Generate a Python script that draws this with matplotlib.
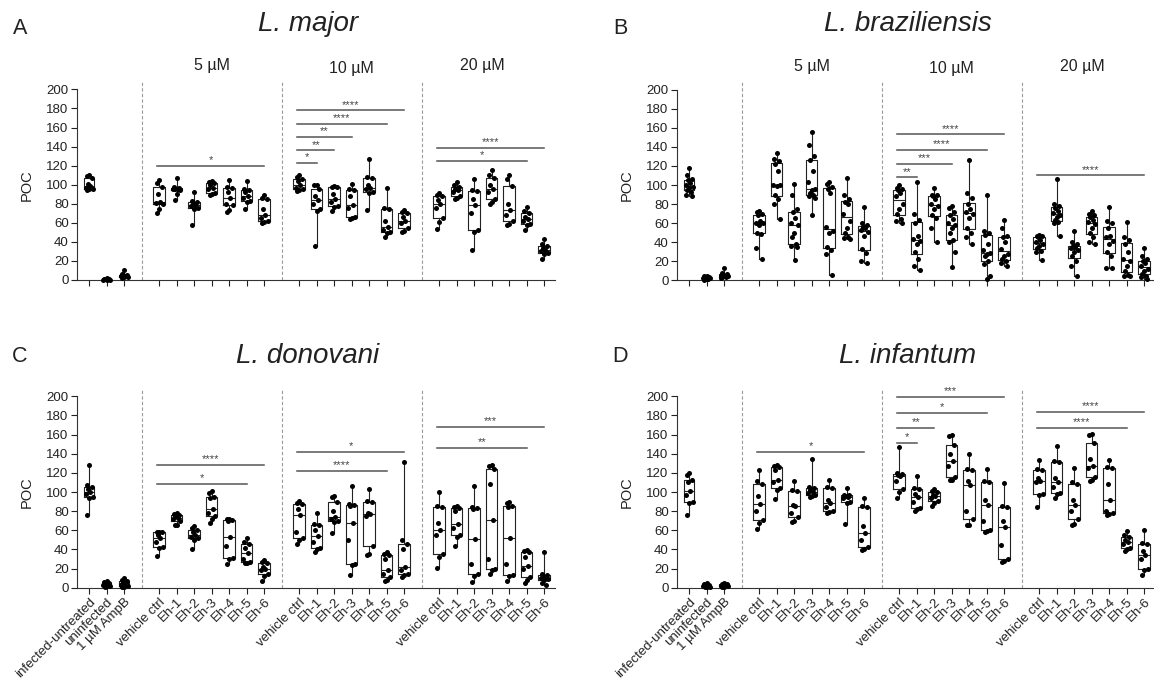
"""Four-panel POC box plots (L. major / braziliensis / donovani / infantum) with dose groups."""
import matplotlib
matplotlib.use("Agg")
import matplotlib.pyplot as plt

INK = "#222222"; GRAYLINE = "#555555"; DASH = "#9a9a9a"
plt.rcParams.update({
    "font.family": ["Liberation Sans", "DejaVu Sans"],
    "text.color": INK, "axes.labelcolor": INK, "xtick.color": INK, "ytick.color": INK,
    "axes.edgecolor": "#333333", "axes.linewidth": 0.8,
})

XLABELS = ["infected-untreated", "uninfected", "1 µM AmpB"] + \
          (["vehicle ctrl", "Eh-1", "Eh-2", "Eh-3", "Eh-4", "Eh-5", "Eh-6"] * 3)
CONC = ["5 µM", "10 µM", "20 µM"]

# ---- L. major ----
MAJOR_CTRL = [[110, 109, 107, 101, 99, 97, 95, 94, 96], [2, 1.5, 1, 1, 0.5, 0.5, 1, 0], [10, 6, 5, 4, 4, 3, 3, 5, 2]]
MAJOR_5 = [[105, 102, 98, 90, 82, 81, 80, 75, 70], [107, 98, 97, 96, 96, 95, 94, 90, 84],
           [92, 83, 82, 80, 79, 78, 76, 75, 58], [104, 103, 102, 100, 97, 95, 91, 90, 89],
           [105, 98, 97, 92, 86, 80, 79, 73, 71], [104, 95, 94, 92, 88, 86, 83, 82, 74],
           [89, 86, 85, 75, 68, 65, 62, 61, 60]]
MAJOR_10 = [[110, 108, 106, 104, 100, 97, 95, 94, 93], [100, 100, 96, 88, 84, 80, 74, 72, 36],
            [99, 98, 98, 90, 85, 82, 78, 77, 72], [101, 95, 94, 88, 79, 76, 66, 65, 64],
            [127, 108, 107, 100, 97, 95, 92, 91, 73], [97, 76, 74, 62, 56, 52, 50, 49, 45],
            [73, 71, 70, 66, 62, 60, 55, 51, 50]]
MAJOR_20 = [[91, 89, 88, 84, 80, 76, 65, 61, 54], [103, 100, 98, 96, 94, 92, 88, 86, 85],
            [106, 94, 93, 85, 79, 70, 52, 50, 31], [115, 110, 107, 100, 96, 92, 85, 82, 80],
            [110, 106, 99, 80, 73, 68, 62, 59, 58], [77, 72, 70, 66, 64, 62, 59, 58, 52],
            [43, 38, 36, 34, 32, 30, 28, 27, 22]]
MAJOR_SIG = [(0, 6, 120, "*"),
             (1, 6, 178, "****"), (1, 5, 164, "****"), (1, 3, 150, "**"), (1, 2, 136, "**"), (1, 1, 123, "*"),
             (2, 6, 139, "****"), (2, 5, 125, "*")]

# ---- L. braziliensis ----
BRAZ_CTRL = [[118, 110, 106, 105, 102, 100, 98, 97, 95, 93, 90, 88],
             [5, 4, 3, 3, 2, 2, 1, 1, 0.5, 1.5, 2.5], [13, 8, 7, 6, 5, 5, 4, 4, 3, 3, 2]]
BRAZ_5 = [[73, 72, 70, 68, 62, 60, 60, 58, 50, 49, 34, 22],
          [134, 127, 125, 122, 115, 100, 100, 99, 90, 85, 80, 64],
          [101, 90, 75, 72, 65, 60, 58, 50, 45, 38, 36, 35, 21],
          [156, 142, 130, 126, 115, 103, 96, 95, 92, 90, 88, 86, 68],
          [103, 101, 98, 96, 92, 56, 52, 50, 35, 32, 28, 6],
          [107, 90, 85, 82, 80, 70, 62, 55, 50, 45, 44, 43],
          [77, 60, 58, 56, 55, 53, 51, 46, 33, 29, 20, 18]]
BRAZ_10 = [[100, 97, 96, 95, 92, 88, 80, 75, 70, 64, 62, 60],
           [103, 70, 63, 60, 47, 43, 41, 38, 30, 22, 15, 11],
           [97, 90, 89, 88, 85, 80, 78, 75, 68, 65, 55, 40],
           [78, 76, 72, 68, 64, 60, 58, 55, 50, 42, 40, 30, 14],
           [126, 92, 86, 80, 75, 72, 70, 65, 55, 50, 45, 38],
           [89, 52, 50, 48, 38, 32, 29, 28, 25, 20, 17, 5, 1],
           [63, 55, 47, 45, 40, 33, 28, 25, 22, 20, 18, 15]]
BRAZ_20 = [[48, 47, 46, 45, 42, 40, 38, 36, 34, 31, 30, 21],
           [106, 80, 78, 76, 73, 71, 69, 66, 63, 61, 60, 47],
           [52, 40, 38, 36, 35, 34, 32, 30, 25, 20, 15, 5],
           [73, 70, 68, 66, 63, 61, 59, 55, 50, 45, 40, 38],
           [77, 62, 60, 55, 47, 45, 41, 38, 30, 25, 13, 13],
           [61, 45, 42, 38, 30, 22, 20, 15, 10, 6, 5, 4],
           [34, 25, 22, 20, 18, 15, 12, 10, 7, 5, 3, 1]]
BRAZ_SIG = [(1, 6, 153, "****"), (1, 5, 137, "****"), (1, 3, 122, "***"), (1, 1, 108, "**"),
            (2, 6, 110, "****")]

# ---- L. donovani ----
DONO_CTRL = [[128, 107, 105, 103, 100, 98, 95, 94, 76], [7, 6, 5, 4, 3, 3, 2, 2, 1], [10, 8, 7, 6, 5, 3, 2, 1, 1]]
DONO_5 = [[58, 58, 58, 55, 52, 48, 43, 42, 33], [78, 77, 76, 75, 73, 72, 70, 66, 65],
          [64, 62, 60, 58, 55, 53, 52, 50, 40], [101, 99, 95, 94, 82, 78, 75, 72, 68],
          [72, 72, 71, 70, 53, 44, 31, 30, 25], [52, 48, 46, 42, 36, 30, 27, 26, 26],
          [29, 27, 26, 22, 20, 18, 14, 12, 7]]
DONO_10 = [[91, 88, 87, 82, 76, 58, 52, 50, 46], [78, 67, 66, 60, 54, 48, 42, 40, 37],
           [96, 95, 90, 80, 74, 72, 70, 69, 57], [106, 87, 86, 85, 68, 50, 25, 24, 13],
           [103, 91, 90, 78, 77, 75, 44, 35, 34], [37, 35, 34, 30, 18, 14, 11, 8, 7],
           [131, 50, 46, 40, 22, 18, 14, 13, 11]]
DONO_20 = [[100, 85, 84, 68, 60, 55, 35, 32, 21], [85, 84, 83, 80, 67, 62, 55, 53, 44],
           [106, 84, 83, 82, 51, 25, 14, 12, 6], [128, 127, 124, 108, 71, 30, 20, 18, 14],
           [90, 88, 85, 84, 52, 25, 13, 12, 7], [39, 38, 37, 32, 23, 20, 11, 8, 5],
           [37, 14, 13, 12, 11, 10, 9, 8, 5, 3]]
DONO_SIG = [(0, 6, 128.6, "****"), (0, 5, 108.7, "*"),
            (1, 6, 142, "*"), (1, 5, 122, "****"),
            (2, 6, 167.6, "***"), (2, 5, 146, "**")]

# ---- L. infantum ----
INFA_CTRL = [[120, 118, 113, 110, 101, 97, 90, 88, 76], [5, 4, 3, 3, 2, 2, 1, 1, 0.5], [5, 4, 4, 3, 3, 2, 2, 1, 1]]
INFA_5 = [[123, 111, 108, 96, 87, 80, 71, 68, 61], [128, 127, 126, 123, 113, 110, 104, 102, 93],
          [112, 102, 101, 86, 85, 78, 74, 70, 69], [135, 105, 104, 102, 100, 99, 97, 96, 95],
          [113, 105, 104, 92, 88, 84, 80, 79, 78], [104, 97, 97, 96, 95, 94, 90, 88, 67],
          [94, 85, 84, 64, 57, 50, 43, 40, 39]]
INFA_10 = [[147, 120, 119, 118, 117, 112, 103, 100, 94], [117, 104, 103, 98, 95, 90, 83, 82, 80],
           [103, 101, 100, 97, 96, 94, 91, 88, 85], [160, 158, 149, 140, 132, 127, 116, 113, 113],
           [140, 124, 123, 112, 107, 80, 72, 66, 65], [124, 112, 110, 92, 86, 70, 60, 59, 58],
           [109, 85, 84, 70, 63, 45, 30, 28, 27]]
INFA_20 = [[133, 124, 123, 115, 112, 110, 98, 97, 84], [148, 132, 131, 115, 110, 105, 99, 98, 94],
           [125, 110, 108, 92, 86, 80, 72, 67, 65], [161, 160, 151, 135, 127, 125, 116, 113, 111],
           [133, 126, 125, 108, 92, 80, 78, 77, 76], [59, 55, 53, 50, 48, 46, 42, 40, 38],
           [60, 47, 46, 38, 34, 30, 20, 18, 13]]
INFA_SIG = [(0, 6, 141.5, "*"),
            (1, 6, 199, "***"), (1, 5, 183, "*"), (1, 2, 167, "**"), (1, 1, 151.5, "*"),
            (2, 6, 183.5, "****"), (2, 5, 167, "****")]

# layout (pixels of the 1154x680 canvas)
W, H = 1154, 680
XLO, XHI, YTOP = 0.31, 27.6, 208
PXU = 17.5
JIT = [0.0, -0.14, 0.14, -0.07, 0.07, -0.2, 0.2, 0.02, -0.1, 0.1, -0.17, 0.17, 0.04]


def draw(ax, ctrl, groups, sigs, bottom_row):
    data = ctrl + groups[0] + groups[1] + groups[2]
    pos = [1, 2, 3] + [5 + 8 * g + j for g in range(3) for j in range(7)]
    widths = [0.55] * 3 + [0.64] * 21
    lp = dict(color="#222222", lw=0.8)
    ax.boxplot(data, positions=pos, widths=widths, whis=(0, 100), showcaps=False, showfliers=False,
               boxprops=lp, whiskerprops=lp, medianprops=dict(color="#222222", lw=0.8),
               manage_ticks=False, zorder=2)
    for p, vals in zip(pos, data):
        vs = sorted(vals, reverse=True)
        ax.scatter([p + JIT[i % len(JIT)] for i in range(len(vs))], vs, s=13, color="black",
                   lw=0, zorder=3, clip_on=False)
    for xd in (4, 12, 20):
        ax.axvline(xd, color=DASH, ls=(0, (3, 2)), lw=0.8, zorder=1)
    for g, j, y, lab in sigs:
        x0 = 5 + 8 * g - 0.1; x1 = 5 + 8 * g + j
        ax.plot([x0, x1], [y, y], color=GRAYLINE, lw=1.1, clip_on=False, zorder=2)
        ax.text((x0 + x1) / 2, y + 6, lab, ha="center", va="center", fontsize=8, color="#444444")
    ax.set_xlim(XLO, XHI); ax.set_ylim(0, YTOP)
    ax.set_yticks(range(0, 201, 20))
    ax.spines["left"].set_bounds(0, 200)
    for s in ("top", "right"):
        ax.spines[s].set_visible(False)
    ax.set_xticks(pos)
    if bottom_row:
        ax.set_xticklabels(XLABELS, rotation=45, ha="right", rotation_mode="anchor", fontsize=9.5)
    else:
        ax.set_xticklabels([])
    ax.tick_params(axis="both", length=4, width=0.8, labelsize=9.5, pad=2)
    ax.set_ylabel("POC", fontsize=10.5)
    ax.yaxis.set_label_coords((33.5 - 77) / (PXU * (XHI - XLO)), 100 / YTOP)


fig = plt.figure(figsize=(W / 100, H / 100), dpi=100)
panels = [
    (77, 280.0, 0.953, MAJOR_CTRL, [MAJOR_5, MAJOR_10, MAJOR_20], MAJOR_SIG, False, "A", "L. major", 28, 24),
    (677, 280.3, 0.953, BRAZ_CTRL, [BRAZ_5, BRAZ_10, BRAZ_20], BRAZ_SIG, False, "B", "L. braziliensis", 28, 24),
    (77, 587.7, 0.957, DONO_CTRL, [DONO_5, DONO_10, DONO_20], DONO_SIG, True, "C", "L. donovani", 356, 356),
    (677, 587.7, 0.957, INFA_CTRL, [INFA_5, INFA_10, INFA_20], INFA_SIG, True, "D", "L. infantum", 356, 356),
]
for left, y0, pxv, ctrl, groups, sigs, bottom, letter, title, ly, ty in panels:
    wpx = PXU * (XHI - XLO); hpx = YTOP * pxv
    ax = fig.add_axes([left / W, 1 - y0 / H, wpx / W, hpx / H])
    draw(ax, ctrl, groups, sigs, bottom)
    fig.text((left - 57) / W, 1 - ly / H, letter, ha="center", va="center", fontsize=15.5)
    fig.text((left + 231) / W, 1 - ty / H, title, ha="center", va="center", fontsize=20, style="italic")
    if not bottom:
        for cx, cy, lab in ((8, 66, CONC[0]), (16, 69, CONC[1]), (23.5, 66, CONC[2])):
            ax.text(cx, (y0 - cy) / pxv, lab, ha="center", va="center", fontsize=11.5, clip_on=False)

fig.savefig("out.png", dpi=100, facecolor="white")
